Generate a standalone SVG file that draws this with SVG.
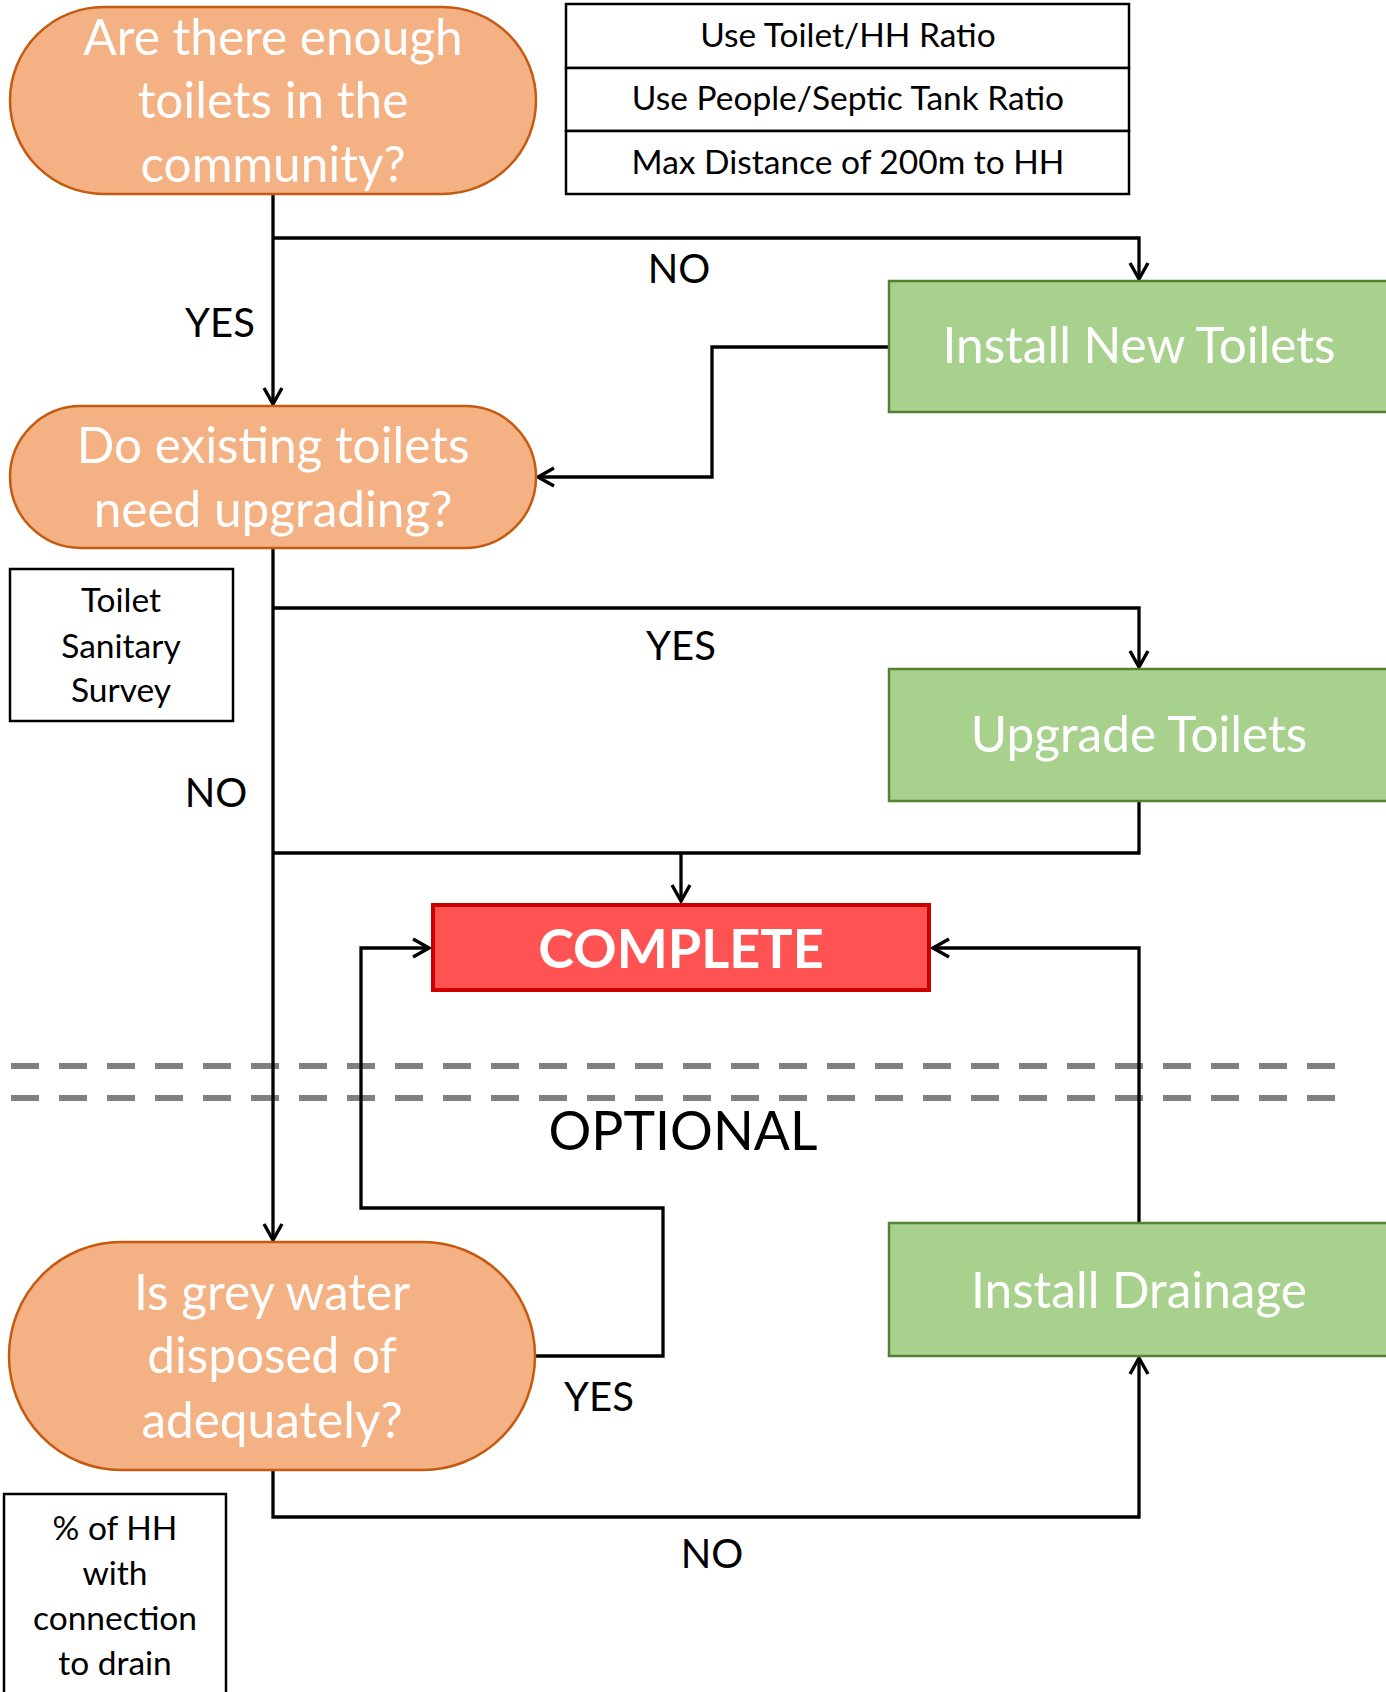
<svg xmlns="http://www.w3.org/2000/svg" width="1386" height="1692" viewBox="0 0 1386 1692">
<style>
text { font-family: Lato, "Liberation Sans", sans-serif; text-anchor: middle; }
.pill { fill: #F4B183; stroke: #C55A11; stroke-width: 2.5; }
.green { fill: #A9D18E; stroke: #548235; stroke-width: 2.5; }
.box { fill: #FFFFFF; stroke: #000000; stroke-width: 2.5; }
.wt { fill: #FFFFFF; font-size: 49.5px; }
.lbl { fill: #000000; font-size: 40px; }
.sm { fill: #000000; font-size: 33.5px; }
.conn { fill: none; stroke: #000000; stroke-width: 3.3; }
.dash { fill: none; stroke: #808080; stroke-width: 6; stroke-dasharray: 28 20; }
</style>
<defs>
<marker id="arr" markerUnits="userSpaceOnUse" markerWidth="24" markerHeight="24" viewBox="-20 -12 24 24" refX="0" refY="0" orient="auto">
<path d="M-16,-9 L0,0 L-16,9" fill="none" stroke="#000000" stroke-width="3.4"/>
</marker>
</defs>

<g id="divider">
<line class="dash" x1="11" y1="1066" x2="1336" y2="1066"/>
<line class="dash" x1="11" y1="1098" x2="1336" y2="1098"/>
</g>

<g id="connectors">
<path class="conn" d="M273,194 V404" marker-end="url(#arr)"/>
<path class="conn" d="M273,238 H1139 V279" marker-end="url(#arr)"/>
<path class="conn" d="M889,347 H712 V477 H538" marker-end="url(#arr)"/>
<path class="conn" d="M273,548 V1240" marker-end="url(#arr)"/>
<path class="conn" d="M273,608 H1139 V667" marker-end="url(#arr)"/>
<path class="conn" d="M1139,801 V853 H273"/>
<path class="conn" d="M681,853 V901" marker-end="url(#arr)"/>
<path class="conn" d="M535,1356 H663 V1208 H361 V948 H429" marker-end="url(#arr)"/>
<path class="conn" d="M1139,1223 V948 H933" marker-end="url(#arr)"/>
<path class="conn" d="M273,1470 V1517 H1139 V1358" marker-end="url(#arr)"/>
</g>

<g id="labels">
<text class="lbl" x="679" y="283">NO</text>
<text class="lbl" x="220" y="337">YES</text>
<text class="lbl" x="681" y="660">YES</text>
<text class="lbl" x="216" y="807">NO</text>
<text class="lbl" x="599" y="1411">YES</text>
<text class="lbl" x="712" y="1568">NO</text>
<text x="683" y="1150" fill="#000000" font-size="53.5px">OPTIONAL</text>
</g>

<g id="q1">
<rect class="pill" x="10" y="7" width="526" height="187" rx="93.5" ry="93.5"/>
<text class="wt" x="273" y="55">Are there enough</text>
<text class="wt" x="273" y="118">toilets in the</text>
<text class="wt" x="273" y="182">community?</text>
</g>

<g id="criteria">
<rect class="box" x="566" y="4" width="563" height="64"/>
<rect class="box" x="566" y="68" width="563" height="63"/>
<rect class="box" x="566" y="131" width="563" height="63"/>
<text class="sm" x="848" y="47">Use Toilet/HH Ratio</text>
<text class="sm" x="848" y="110">Use People/Septic Tank Ratio</text>
<text class="sm" x="848" y="174">Max Distance of 200m to HH</text>
</g>

<g id="install-toilets">
<rect class="green" x="889" y="281" width="500" height="131"/>
<text class="wt" x="1139" y="363">Install New Toilets</text>
</g>

<g id="q2">
<rect class="pill" x="10" y="406" width="526" height="142" rx="71" ry="71"/>
<text class="wt" x="273" y="463">Do existing toilets</text>
<text class="wt" x="273" y="527">need upgrading?</text>
</g>

<g id="survey">
<rect class="box" x="10" y="569" width="223" height="152"/>
<text class="sm" x="121" y="612">Toilet</text>
<text class="sm" x="121" y="658">Sanitary</text>
<text class="sm" x="121" y="702">Survey</text>
</g>

<g id="upgrade">
<rect class="green" x="889" y="669" width="500" height="132"/>
<text class="wt" x="1139" y="752">Upgrade Toilets</text>
</g>

<g id="complete">
<rect x="433" y="905" width="496" height="85" fill="#FF5252" stroke="#CC0000" stroke-width="4"/>
<text x="681" y="968" fill="#FFFFFF" font-size="54px" font-weight="bold">COMPLETE</text>
</g>

<g id="q3">
<rect class="pill" x="9" y="1242" width="526" height="228" rx="112" ry="114"/>
<text class="wt" x="272" y="1310">Is grey water</text>
<text class="wt" x="272" y="1373">disposed of</text>
<text class="wt" x="272" y="1438">adequately?</text>
</g>

<g id="drainage">
<rect class="green" x="889" y="1223" width="500" height="133"/>
<text class="wt" x="1139" y="1308">Install Drainage</text>
</g>

<g id="hh-box">
<rect class="box" x="4" y="1494" width="222" height="210"/>
<text class="sm" x="115" y="1540">% of HH</text>
<text class="sm" x="115" y="1585">with</text>
<text class="sm" x="115" y="1630">connection</text>
<text class="sm" x="115" y="1675">to drain</text>
</g>
</svg>
